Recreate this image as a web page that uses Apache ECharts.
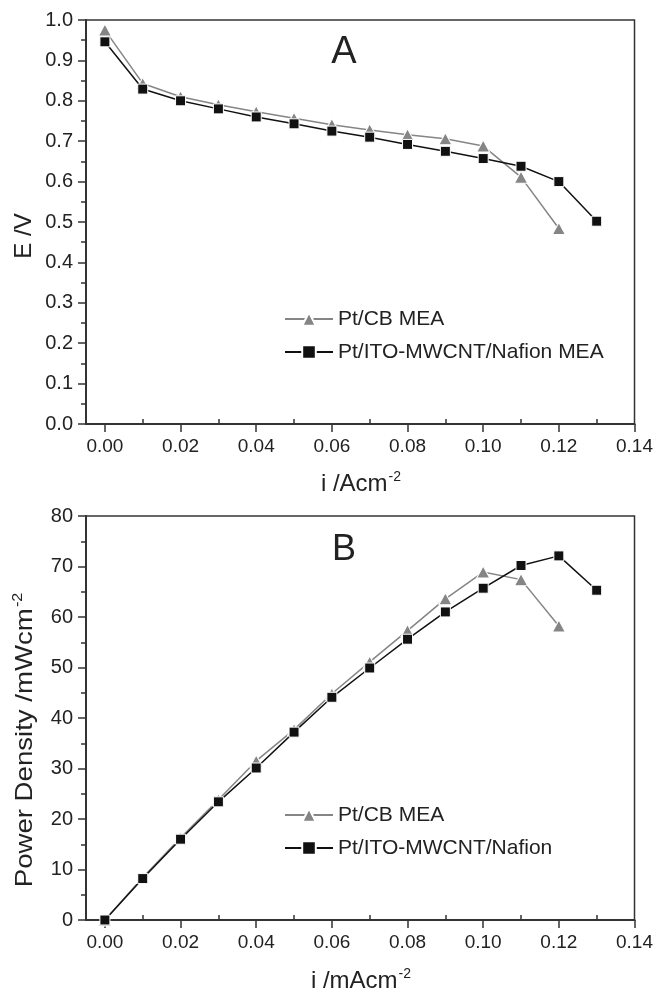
<!DOCTYPE html>
<html><head><meta charset="utf-8">
<script src="https://cdn.jsdelivr.net/npm/echarts@6/dist/echarts.min.js"></script>
<style>html,body{margin:0;padding:0;background:#fff}#c{width:656px;height:993px}</style>
</head><body><div id="c"></div>
<script>
// Data
const iCB = [0, 0.01, 0.02, 0.03, 0.04, 0.05, 0.06, 0.07, 0.08, 0.09, 0.10, 0.11, 0.12];
const iITO = [0, 0.01, 0.02, 0.03, 0.04, 0.05, 0.06, 0.07, 0.08, 0.09, 0.10, 0.11, 0.12, 0.13];
const eCB = [0.975, 0.843, 0.81, 0.79, 0.773, 0.757, 0.741, 0.728, 0.716, 0.706, 0.688, 0.611, 0.484];
const eITO = [0.946, 0.829, 0.80, 0.78, 0.76, 0.743, 0.725, 0.71, 0.692, 0.675, 0.657, 0.638, 0.60, 0.502];
const pCB = [0, 8.4, 16.3, 23.8, 31.5, 37.7, 44.8, 51.1, 57.3, 63.6, 68.9, 67.4, 58.2];
const pITO = [0, 8.2, 16.0, 23.4, 30.1, 37.2, 44.1, 49.9, 55.6, 61.0, 65.7, 70.2, 72.1, 65.3];
const xMajorTicks = [0, 0.02, 0.04, 0.06, 0.08, 0.10, 0.12, 0.14];
const xMinorTicks = [0.01, 0.03, 0.05, 0.07, 0.09, 0.11, 0.13];
const nameCB = 'Pt/CB MEA';
const nameITO_A = 'Pt/ITO-MWCNT/Nafion MEA';
const nameITO_B = 'Pt/ITO-MWCNT/Nafion';

const FONT = '"Liberation Sans", Arial, Helvetica, sans-serif';
const TXT = '#222';
const GRAY = '#858585';
const BLACK = '#111';
const X_MIN = -0.005, X_MAX = 0.14;

const chart = echarts.init(document.getElementById('c'));
const pair = (xs, ys) => xs.map((x, k) => [x, ys[k]]);

function xAxesFor(g) {
  return [
    {
      type: 'value', gridIndex: g, min: X_MIN, max: X_MAX,
      axisLine: { show: true, onZero: false, lineStyle: { color: '#333', width: 2 } },
      axisTick: { show: true, inside: false, length: 8, customValues: xMajorTicks, lineStyle: { color: '#333', width: 1.5 } },
      axisLabel: { show: true, customValues: xMajorTicks, margin: 13, fontSize: 19, fontFamily: FONT, color: TXT,
        formatter: v => v.toFixed(2) },
      splitLine: { show: false }
    },
    {
      type: 'value', gridIndex: g, min: X_MIN, max: X_MAX,
      axisLine: { show: false },
      axisTick: { show: true, inside: false, length: 5, customValues: xMinorTicks, lineStyle: { color: '#333', width: 1.5 } },
      axisLabel: { show: false },
      splitLine: { show: false }
    }
  ];
}

function yAxisFor(g, max, interval, digits) {
  return {
    type: 'value', gridIndex: g, min: 0, max: max, interval: interval,
    axisLine: { show: true, onZero: false, lineStyle: { color: '#333', width: 2 } },
    axisTick: { show: true, inside: false, length: 8, lineStyle: { color: '#333', width: 1.5 } },
    minorTick: { show: true, splitNumber: 2, length: 5, lineStyle: { color: '#333', width: 1.5 } },
    axisLabel: { margin: 13, fontSize: 20, fontFamily: FONT, color: TXT, formatter: v => v.toFixed(digits) },
    splitLine: { show: false }
  };
}

function lineSeries(name, data, xi, yi, isCB) {
  return {
    type: 'line', name: name, data: data, xAxisIndex: xi, yAxisIndex: yi,
    symbol: isCB ? 'triangle' : 'rect',
    symbolSize: isCB ? [13, 12] : 10,
    showSymbol: true,
    lineStyle: { color: isCB ? GRAY : BLACK, width: 1.5 },
    itemStyle: { color: isCB ? GRAY : BLACK, borderColor: '#fff', borderWidth: 1 },
    z: isCB ? 2 : 3,
    animation: false
  };
}

const legendCommon = {
  orient: 'vertical', itemWidth: 48, itemHeight: 17, itemGap: 9, left: 279,
  textStyle: { fontSize: 21, fontFamily: FONT, color: TXT, lineHeight: 24 },
  selectedMode: false
};

const option = {
  backgroundColor: '#fff',
  animation: false,
  grid: [
    { left: 86, top: 20, width: 550, height: 404, show: true, borderColor: '#333', borderWidth: 1.5, backgroundColor: 'transparent' },
    { left: 86, top: 516, width: 550, height: 404, show: true, borderColor: '#333', borderWidth: 1.5, backgroundColor: 'transparent' }
  ],
  xAxis: [...xAxesFor(0), ...xAxesFor(1)],
  yAxis: [yAxisFor(0, 1, 0.1, 1), yAxisFor(1, 80, 10, 0)],
  legend: [
    Object.assign({}, legendCommon, { top: 302, data: [nameCB, nameITO_A] }),
    Object.assign({}, legendCommon, { top: 798, data: [nameCB, nameITO_B] })
  ],
  series: [
    lineSeries(nameCB, pair(iCB, eCB), 0, 0, true),
    lineSeries(nameITO_A, pair(iITO, eITO), 0, 0, false),
    lineSeries(nameCB, pair(iCB, pCB), 2, 1, true),
    lineSeries(nameITO_B, pair(iITO, pITO), 2, 1, false)
  ],
  graphic: [
    { type: 'text', x: 344, y: 53, style: { text: 'A', fontSize: 38, fontFamily: FONT, fill: TXT, textAlign: 'center', textVerticalAlign: 'middle' } },
    { type: 'text', x: 344, y: 550, style: { text: 'B', fontSize: 36, fontFamily: FONT, fill: TXT, textAlign: 'center', textVerticalAlign: 'middle' } },
    { type: 'text', x: 361, y: 484, style: { text: '{m|i /Acm}{s|-2}', fill: TXT, textAlign: 'center', textVerticalAlign: 'middle',
        rich: { m: { fontSize: 24, fontFamily: FONT, color: TXT }, s: { fontSize: 14, fontFamily: FONT, color: TXT, padding: [0, 0, 14, 1] } } } },
    { type: 'text', x: 361, y: 981, style: { text: '{m|i /mAcm}{s|-2}', fill: TXT, textAlign: 'center', textVerticalAlign: 'middle',
        rich: { m: { fontSize: 24, fontFamily: FONT, color: TXT }, s: { fontSize: 14, fontFamily: FONT, color: TXT, padding: [0, 0, 14, 1] } } } },
    { type: 'text', x: 24, y: 236, rotation: Math.PI / 2, style: { text: 'E /V', fontSize: 24, fontFamily: FONT, fill: TXT, textAlign: 'center', textVerticalAlign: 'middle' } },
    { type: 'text', x: 25, y: 740, rotation: Math.PI / 2, scaleX: 1.15, style: { text: '{m|Power Density /mWcm}{s|-2}', fill: TXT, textAlign: 'center', textVerticalAlign: 'middle',
        rich: { m: { fontSize: 24, fontFamily: FONT, color: TXT }, s: { fontSize: 14, fontFamily: FONT, color: TXT, padding: [0, 0, 14, 1] } } } }
  ]
};
chart.setOption(option);
</script></body></html>
